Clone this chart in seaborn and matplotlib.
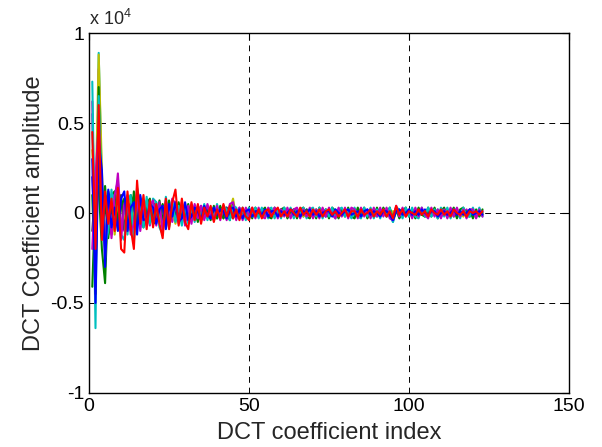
import numpy as np
import pandas as pd
import matplotlib
matplotlib.use("Agg")
import matplotlib.pyplot as plt
import seaborn as sns

sns.set_style("white")
plt.rcParams["font.family"] = ["Liberation Sans", "DejaVu Sans"]
plt.rcParams["mathtext.default"] = "regular"

# DCT coefficients in units of 100 (x 10^4 axis)
line_a = [20, -30, 45, 10, -15, 6, -10, 8, 5, -6,
          -8, 5, 4, -10, 7, -3, 5, -6, 3, 4,
          -4, 3, -5, 6, -2, 3, 5, -4, 2, -3,
          2, -3, 4, -2, 1, 3, -2, 2, -3, 1,
          2, -1, 3, -2, 4, -1, 1, -2, 2, -1,
          1, -2, 1, 2, -1, 1, -1, 2, -2, 1,
          0, 1, -2, 1, 2, -1, 0, 1, -1, 2,
          -1, 1, 0, -2, 1, 1, -1, 0, 2, -1,
          1, -1, 2, 0, -1, 1, -2, 1, 0, 1,
          -1, 2, -1, 0, -3, 2, 1, -1, 0, 1,
          -1, 1, 0, -1, 2, -1, 1, 0, -1, 1,
          0, -1, 1, 2, -1, 0, 1, -1, 0, 1,
          -1, 0, 1]
line_b = [-41, 10, 15, -20, -39, 12, 4, -9, 10, 3,
          6, -7, 10, 5, -4, 8, -6, 2, -5, 6,
          3, -4, 5, -3, 7, -2, 4, 3, -5, 2,
          -3, 4, -1, 3, -4, 2, 3, -2, 1, -3,
          3, 2, -2, 1, -3, 2, -1, 1, 2, -3,
          2, -1, 0, 2, -2, 1, 2, -1, 1, -2,
          1, 2, -1, 0, 1, -2, 2, 1, -1, 0,
          2, -1, 1, -1, 0, 2, -2, 1, -1, 1,
          0, 2, -1, 1, -2, 0, 1, -1, 2, -1,
          0, 1, -2, 2, -1, 0, 1, 2, -1, 0,
          1, -2, 1, 0, -1, 2, -1, 1, 0, -2,
          1, 0, 2, -1, 1, -1, 0, 1, -2, 1,
          0, 1, -1]
line_c = [55, -64, 89, 15, -10, -8, 6, 12, -5, -9,
          4, -12, 6, 8, -6, 5, -3, 7, -4, -2,
          6, -3, -6, 4, -1, 6, -3, 2, -6, 4,
          -5, 2, 3, -4, 2, -1, 4, -3, -1, 3,
          -2, 4, -1, -3, 2, 1, -2, 3, -1, 1,
          -2, 2, 1, -1, 2, -3, 1, 0, 2, -1,
          -1, 2, 1, -2, 1, 0, -2, 2, 1, -1,
          1, -2, 2, 0, -1, 1, 2, -2, 1, 0,
          -1, 1, -2, 2, 1, -1, 0, 2, -1, -2,
          1, 0, 2, -1, -5, 1, -1, 1, 2, -1,
          0, 2, -1, 1, -2, 1, 0, -1, 2, 0,
          -1, 1, 2, -2, 0, 1, -1, 1, 0, -1,
          1, -1, 0]
line_d = [62, -41, 80, -12, 8, 10, -14, 5, 22, -6,
          -10, 9, -5, 3, 10, -8, 4, 2, -7, 5,
          -2, 5, -8, 2, 4, -5, 3, -3, 4, 1,
          -3, 5, -2, 1, 4, -3, 1, 2, -2, 3,
          -1, 2, -3, 3, 1, -2, 3, -1, 0, 2,
          -1, 1, -2, 2, 0, 1, -2, 1, -1, 2,
          1, -2, 0, 1, -1, 2, 1, -1, 0, -2,
          1, 0, -1, 2, -1, 1, 0, -1, 2, 1,
          -2, 1, 0, -1, 1, 2, -1, 0, 1, -1,
          2, -1, 0, 1, -2, 3, 0, -1, 1, 0,
          -1, 1, 2, -1, 0, -2, 1, 1, -1, 0,
          2, -1, 0, 1, -2, 1, 0, 2, -1, 0,
          1, 0, -1]
line_e = [35, 5, 88, 24, -25, 4, 9, -12, 6, 7,
          -6, 4, 8, -5, 12, -4, -7, 6, 3, -5,
          4, -6, 2, 5, -4, 2, -6, 5, -1, 3,
          2, -4, 1, 2, -3, 4, -2, -1, 3, -2,
          1, -3, 2, 1, 8, -3, 2, -2, 1, 0,
          1, -1, 2, -2, 1, 2, -1, 0, 1, -2,
          2, 0, -1, 2, -1, 1, -2, 0, 1, 1,
          -2, 1, 2, -1, 0, -1, 1, 2, -1, 0,
          1, -1, 1, 2, -2, 0, 1, -1, 0, 2,
          -1, 1, 0, -2, 1, 1, -1, 2, 0, -1,
          1, 0, -2, 1, 1, -1, 2, 0, -1, 1,
          -1, 2, 0, -1, 1, 0, -2, 1, 1, -1,
          0, 1, 0]
line_f = [-10, 15, 30, -8, 5, -12, 3, 4, -4, 10,
          -9, 2, 5, -7, 4, 3, -5, 4, 6, -4,
          -3, 4, 3, -5, 2, 4, -4, 1, 3, -4,
          1, 3, -3, 2, -1, 2, -3, 3, 1, -2,
          2, -1, 3, -2, 1, 2, -1, 2, -2, 1,
          0, 2, -1, 1, -1, 2, 0, -2, 1, 1,
          -1, 1, 2, -1, 0, 1, -1, 2, -1, 1,
          0, -1, 1, 1, -2, 0, 1, -1, 1, 2,
          -1, 0, 1, -2, 1, 1, -1, 0, 2, -1,
          1, -1, 2, 0, -2, 2, -1, 0, 1, 1,
          -1, 0, 1, -1, 1, 0, 2, -1, 0, 1,
          -1, 0, 1, -1, 2, -1, 0, 1, -1, 0,
          1, -1, 0]
line_i = [10, -45, 70, -5, 15, -14, 10, 12, -8, 4,
          8, -5, -10, 12, -7, 9, -8, 5, 8, -6,
          -5, 7, -4, 3, -8, 5, -2, 6, -4, -3,
          5, -4, 2, -5, 3, -2, 2, -4, 4, -3,
          4, -3, 1, -4, 5, -3, 2, 1, -3, 3,
          -3, 3, -2, 1, 3, -2, -3, 3, -1, 2,
          3, -3, 1, 2, -3, 2, 3, -2, -3, 2,
          -3, 3, -1, 2, -3, 3, 1, -3, 2, -2,
          3, -2, -3, 3, -1, 3, -3, 2, -2, 3,
          -2, 3, -1, 3, -4, 2, -3, 1, 3, -2,
          2, -3, 3, -1, -2, 3, -2, 3, -3, 1,
          3, -2, -1, 3, -3, 2, 3, -2, 2, -3,
          2, -2, 2]
line_k = [73, -35, 65, 8, -18, -10, 13, -6, 12, -12,
          -15, 6, 10, -16, 14, 5, -8, 9, -6, 8,
          6, -8, -12, 9, -3, 7, -5, 4, -7, 5,
          -6, 4, -5, 4, -2, 5, -4, 3, -3, 5,
          -3, 4, 2, -4, 4, 3, -3, 2, -4, 3,
          -2, 3, -3, 3, -2, 2, 3, -3, 2, -3,
          3, -2, 3, -3, 2, -1, 3, -3, 2, 3,
          -2, 3, -3, 2, -2, 3, -3, 2, 3, -2,
          2, -3, 3, -2, -3, 3, -2, 3, -3, 2,
          -3, 2, -2, 3, -5, 3, 2, -3, 3, -2,
          3, -2, -3, 3, -2, 3, -2, 2, -3, 3,
          -2, 3, -3, 2, 2, -3, 3, -2, -2, 3,
          -2, 3, -2]
line_j = [-20, 20, 50, 5, -20, 8, -12, 10, 18, -15,
          5, 10, -12, -6, 9, -10, 6, -7, 4, 7,
          -7, 6, -10, 7, -5, 8, 5, -6, 6, -7,
          4, -6, 5, -3, 4, -4, 5, -2, -4, 4,
          -4, 3, -4, 5, 6, -4, 3, -4, 3, -2,
          3, -3, 3, -2, -3, 3, -1, 3, -3, 2,
          -2, 3, -3, 2, 3, -3, 2, -2, 3, -3,
          2, -3, 3, -2, 3, -1, -3, 3, -2, 3,
          -3, 3, 2, -3, 3, -2, 2, -3, 3, -2,
          3, -2, 3, -3, -4, 4, -2, 3, -2, 2,
          -3, 3, -2, 3, -1, -3, 3, -2, 2, -3,
          2, -3, 3, -2, 3, -2, 2, -3, 2, 2,
          -3, 2, -2]
line_h = [30, -50, 40, 24, -30, 13, -8, 3, -10, 8,
          12, -10, 3, 6, -12, 10, -4, -3, 5, 3,
          -6, 2, 4, -9, 5, -2, 6, -5, -3, 6,
          -4, -2, 3, 1, -4, 4, -1, -3, 3, -1,
          2, 1, -3, 2, 3, -2, 2, -3, 1, 2,
          -2, 1, 1, -1, 2, -2, 1, 1, -2, 1,
          -1, 0, 2, -1, 1, -2, 1, 0, 2, -1,
          1, -2, 0, 1, 1, -2, 2, 0, -1, 1,
          2, -1, 0, 1, -2, 1, 2, -1, 1, 0,
          -2, 1, 1, -1, -4, 1, 2, -1, 0, 2,
          -1, 1, -1, 2, 0, -1, 1, 1, -2, 0,
          1, -1, 0, 2, -1, 1, -1, 0, 2, -1,
          0, 1, -1]
line_g = [45, -20, 60, -15, 12, -6, 8, -10, 14, -20,
          -22, 12, -8, -20, 18, -6, 10, -9, 7, -8,
          5, -6, -14, 8, -9, 6, 13, -7, 8, -5,
          -9, 6, -4, 5, -6, 3, -2, 4, -5, 2,
          -3, 5, -2, 4, -3, 2, -4, 3, -2, -4,
          3, -2, 2, -3, 1, 2, -2, 1, 3, -2,
          1, -2, 2, 0, -2, 3, -1, 1, -2, 2,
          -1, 2, -2, 1, 2, -1, 1, -2, 0, 2,
          -2, 1, 1, -2, 2, -1, 0, 2, -2, 1,
          -1, 2, -2, 1, -3, 4, -1, 2, -2, 1,
          0, -1, 2, -1, 1, -2, 2, 0, -1, 2,
          -1, 1, -2, 2, 0, -1, 1, -2, 1, 0,
          1, -1, 1]

lines = [line_a, line_b, line_c, line_d, line_e, line_f,
         line_i, line_k, line_j, line_h, line_g]
colors = [(0, 0, 1), (0, 0.5, 0), (0, 0.75, 0.75), (0.75, 0, 0.75),
          (0.75, 0.75, 0), (0.25, 0.25, 0.25), (0, 0.5, 0),
          (0, 0.75, 0.75), (0.75, 0, 0.75), (0, 0, 1), (1, 0, 0)]

frames = []
for k, vals in enumerate(lines):
    frames.append(pd.DataFrame({"idx": np.arange(1, len(vals) + 1),
                                "amp": np.array(vals) * 100.0,
                                "line": k}))
df = pd.concat(frames, ignore_index=True)

fig = plt.figure(figsize=(6.02, 4.47), dpi=100)
ax = fig.add_axes([0.148, 0.121, 0.797, 0.805])

sns.lineplot(data=df, x="idx", y="amp", hue="line", palette=colors,
             estimator=None, sort=False, legend=False, linewidth=1.5, ax=ax)

ax.set_xlim(0, 150)
ax.set_ylim(-10000, 10000)
ax.set_xticks([0, 50, 100, 150])
ax.set_xticklabels(["0", "50", "100", "150"])
ax.set_yticks([-10000, -5000, 0, 5000, 10000])
ax.set_yticklabels(["-1", "-0.5", "0", "0.5", "1"])
ax.tick_params(direction="in", top=True, right=True, labelsize=14,
               length=5, width=0.8, colors="k")
ax.set_axisbelow(True)
ax.grid(True, color="k", linestyle=(0, (6, 5)), linewidth=0.7)
for s in ax.spines.values():
    s.set_color("k")
    s.set_linewidth(1.0)

ax.set_xlabel("DCT coefficient index", fontsize=17, labelpad=5)
ax.set_ylabel("DCT Coefficient amplitude", fontsize=17, labelpad=4)
ax.text(0.0, 1.012, r"x 10$^{4}$", transform=ax.transAxes, fontsize=13,
        ha="left", va="bottom")

fig.savefig("out.png", dpi=100)
